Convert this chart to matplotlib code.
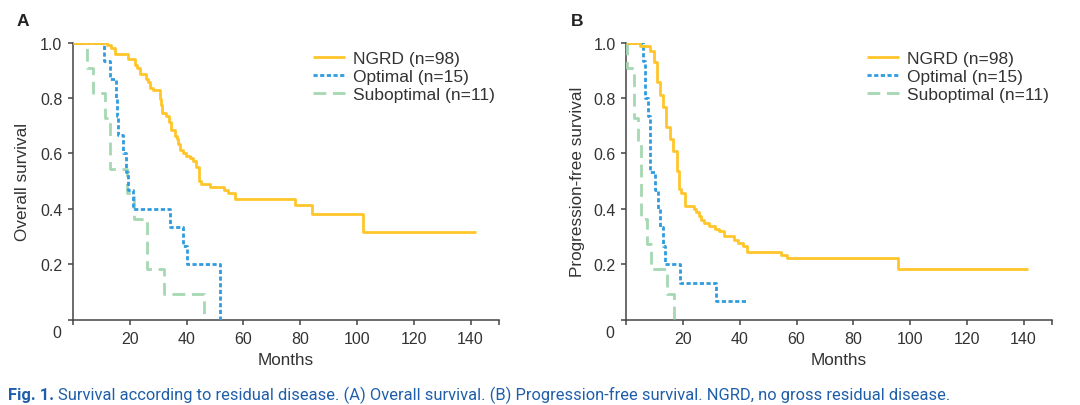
import matplotlib
matplotlib.use("Agg")
import matplotlib.pyplot as plt

# ---------------- data ----------------
# Panel A: Overall survival (Kaplan-Meier steps, post)
os_ngrd_t = [0, 12.0, 13.5, 14.7, 19.4, 21.7, 22.5, 23.5, 25.8, 26.5, 27.2, 28.2, 30.5, 31.0, 31.5,
             32.9, 33.8, 34.6, 35.8, 36.5, 37.0, 37.6, 38.7, 39.9, 41.1, 42.2, 43.3, 44.4, 45.0,
             48.2, 53.1, 54.7, 57.2, 78.1, 84.2, 102.2, 142.0]
os_ngrd_s = [1.0, 0.99, 0.98, 0.959, 0.939, 0.918, 0.908, 0.888, 0.867, 0.857, 0.837, 0.827, 0.796,
             0.776, 0.745, 0.735, 0.714, 0.684, 0.663, 0.653, 0.633, 0.612, 0.602, 0.592, 0.582,
             0.571, 0.55, 0.50, 0.489, 0.479, 0.467, 0.455, 0.435, 0.414, 0.381, 0.317, 0.317]

os_opt_t = [0, 10.9, 13.0, 15.0, 15.5, 15.8, 17.6, 18.8, 19.3, 21.2, 34.2, 38.6, 40.0, 51.8]
os_opt_s = [1.0, 0.933, 0.867, 0.8, 0.733, 0.667, 0.6, 0.533, 0.467, 0.4, 0.333, 0.267, 0.2, 0.0]

os_sub_t = [0, 4.9, 7.1, 11.3, 13.2, 19.0, 21.5, 26.0, 32.0, 46.2]
os_sub_s = [1.0, 0.909, 0.818, 0.727, 0.545, 0.455, 0.364, 0.182, 0.091, 0.0]

# Panel B: Progression-free survival
pfs_ngrd_t = [0, 4.8, 8.5, 9.8, 10.7, 11.9, 13.0, 14.0, 15.3, 16.5, 17.7, 18.6, 19.4, 20.6, 23.7,
              24.7, 25.6, 26.4, 27.5, 29.3, 31.4, 32.8, 34.5, 38.0, 39.2, 41.2, 42.7, 54.4, 56.8,
              95.9, 141.5]
pfs_ngrd_s = [1.0, 0.988, 0.97, 0.928, 0.856, 0.812, 0.766, 0.696, 0.652, 0.609, 0.537, 0.471,
              0.455, 0.411, 0.40, 0.389, 0.375, 0.36, 0.348, 0.336, 0.328, 0.318, 0.30, 0.288,
              0.276, 0.264, 0.245, 0.233, 0.221, 0.182, 0.182]

pfs_opt_t = [0, 5.8, 6.7, 7.6, 8.5, 10.0, 11.1, 12.0, 12.8, 13.6, 18.8, 31.5, 42.6]
pfs_opt_s = [1.0, 0.933, 0.8, 0.733, 0.533, 0.467, 0.4, 0.333, 0.267, 0.2, 0.133, 0.067, 0.067]

pfs_sub_t = [0, 0.3, 2.8, 4.1, 5.3, 7.3, 8.8, 14.4, 16.7]
pfs_sub_s = [1.0, 0.909, 0.727, 0.636, 0.364, 0.273, 0.182, 0.091, 0.0]

series_labels = ["NGRD (n=98)", "Optimal (n=15)", "Suboptimal (n=11)"]
x_ticks = [0, 20, 40, 60, 80, 100, 120, 140, 150]
x_ticklabels = ["", "20", "40", "60", "80", "100", "120", "140", ""]
y_ticks = [0.0, 0.2, 0.4, 0.6, 0.8, 1.0]
y_ticklabels = ["", "0.2", "0.4", "0.6", "0.8", "1.0"]
ylabels = ["Overall survival", "Progression-free survival"]
panel_letters = ["A", "B"]
caption_bold = "Fig. 1."
caption_rest = ("Survival according to residual disease. (A) Overall survival. "
                "(B) Progression-free survival. NGRD, no gross residual disease.")

# ---------------- style ----------------
W, H = 1080, 406
DPI = 100
plt.rcParams['font.family'] = ['Liberation Sans', 'DejaVu Sans']
FS = 11.5
FS_LAB = 12.3
FS_LEG = 12.5
TXT = '#333333'
C_NGRD = '#FFC52A'
C_OPT = '#2F9CDF'
C_SUB = '#A5D8B3'
LW = 2.0

fig = plt.figure(figsize=(W / DPI, H / DPI), dpi=DPI)

def px_axes(l, r, b, t):
    return [l / W, 1 - b / H, (r - l) / W, (b - t) / H]

axA = fig.add_axes(px_axes(73, 499, 320.5, 43.5))
axB = fig.add_axes(px_axes(626.3, 1052, 320.5, 43.5))

data = [
    ((os_ngrd_t, os_ngrd_s), (os_opt_t, os_opt_s), (os_sub_t, os_sub_s)),
    ((pfs_ngrd_t, pfs_ngrd_s), (pfs_opt_t, pfs_opt_s), (pfs_sub_t, pfs_sub_s)),
]
styles = [
    dict(color=C_NGRD, linestyle='-'),
    dict(color=C_OPT, linestyle=(0, (1.5, 0.9))),
    dict(color=C_SUB, linestyle=(0, (4.6, 2.4))),
]
ylab_x = [-0.118, -0.1146]
leg_anchor = [(313 / W, 1 - 51.5 / H), (867 / W, 1 - 51.5 / H)]

for i, ax in enumerate([axA, axB]):
    handles = []
    for k, ((t, s), st, lab) in enumerate(zip(data[i], styles, series_labels)):
        h, = ax.step(t, s, where='post', lw=LW, label=lab, solid_capstyle='butt',
                     dash_capstyle='butt', zorder=3 - k * 0.1, **st)
        handles.append(h)
    ax.set_xlim(0, 150)
    ax.set_ylim(0, 1.0)
    for sp in ['top', 'right']:
        ax.spines[sp].set_visible(False)
    for sp in ['left', 'bottom']:
        ax.spines[sp].set_color('#444444')
        ax.spines[sp].set_linewidth(1.1)
    ax.set_xticks(x_ticks)
    ax.set_xticklabels(x_ticklabels)
    ax.set_yticks(y_ticks)
    ax.set_yticklabels(y_ticklabels)
    ax.tick_params(axis='both', direction='out', length=3.6, width=1.1, color='#444444',
                   labelsize=FS, labelcolor=TXT, pad=4)
    ax.tick_params(axis='x', pad=5)
    ax.set_xlabel("Months", fontsize=FS_LAB, color=TXT, labelpad=4)
    ax.set_ylabel(ylabels[i], fontsize=FS_LAB, color=TXT, va='center')
    ax.yaxis.set_label_coords(ylab_x[i], 0.5)
    ax.annotate("0", xy=(0, 0), xycoords='data', xytext=(-16, -13.5), textcoords='offset pixels',
                ha='center', va='center', fontsize=FS, color=TXT, annotation_clip=False)
    leg = fig.legend(handles=handles, loc='upper left', bbox_to_anchor=leg_anchor[i],
                     bbox_transform=fig.transFigure, frameon=False, fontsize=FS_LEG,
                     borderpad=0, borderaxespad=0, handlelength=1.85, handletextpad=0.45,
                     labelspacing=0.18)
    for tx in leg.get_texts():
        tx.set_color(TXT)

fig.text(16.5 / W, 1 - 25.5 / H, panel_letters[0], fontsize=12.5, fontweight='bold', color='#222222',
         ha='left', va='baseline')
fig.text(570.5 / W, 1 - 25.5 / H, panel_letters[1], fontsize=12.5, fontweight='bold', color='#222222',
         ha='left', va='baseline')

# caption
cap_family = ['Liberation Sans Narrow', 'Roboto', 'DejaVu Sans']
CAPC = '#1F5FAA'
t1 = fig.text(8 / W, 1 - 400 / H, caption_bold, fontsize=11, fontweight='bold', color=CAPC,
              family=cap_family, ha='left', va='baseline')
t2 = fig.text(0, 0, caption_rest, fontsize=11, color=CAPC, family=cap_family,
              ha='left', va='baseline')
fig.canvas.draw()
r = fig.canvas.get_renderer()
target = 952 - 8
for _ in range(3):
    b1 = t1.get_window_extent(r)
    t2.set_position(((b1.x1 + 4) / W, 1 - 400 / H))
    b2 = t2.get_window_extent(r)
    width = b2.x1 - b1.x0
    f = target / width
    t1.set_fontsize(t1.get_fontsize() * f)
    t2.set_fontsize(t2.get_fontsize() * f)
    fig.canvas.draw()
b1 = t1.get_window_extent(r)
t2.set_position(((b1.x1 + 4) / W, 1 - 400 / H))

fig.savefig("out.png", dpi=DPI)
